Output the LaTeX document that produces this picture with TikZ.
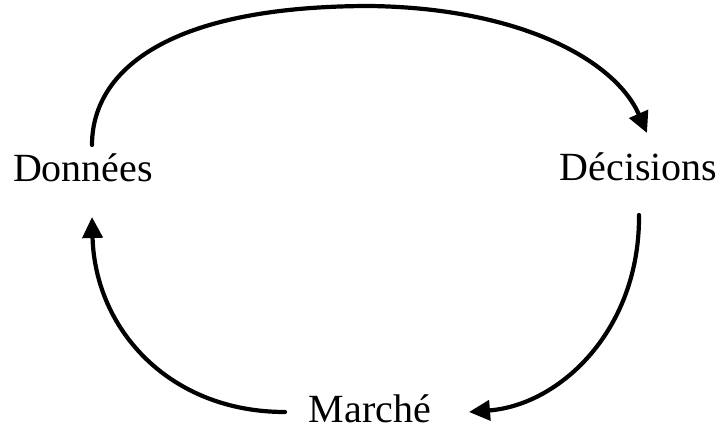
\documentclass[tikz,border=0pt]{standalone}
\usepackage{fontspec}
\setmainfont{Liberation Serif}
\usetikzlibrary{arrows.meta}
\begin{document}
\begin{tikzpicture}[x=1pt,y=-1pt,
  term/.style={inner sep=0pt, anchor=base, font=\fontsize{40}{48}\selectfont},
  flow/.style={line width=4.2pt, line cap=round, -{Triangle[length=21pt,width=20pt]}}]
\useasboundingbox (0,0) rectangle (723,432);

% the three stages of the cycle
\node[term] (don) at (83,181) {Données};
\node[term] (dec) at (638.5,180) {Décisions};
\node[term] (mar) at (370,422) {Marché};

% Données -> Décisions (upper arc)
\draw[flow] ([shift={(9pt,36pt)}]don.base)
  .. controls (92,75) and (160,6) .. (370,6)
  .. controls (520,8) and (615,60) .. ([shift={(8.5pt,47pt)}]dec.base);

% Décisions -> Marché
\draw[flow] ([shift={(0.5pt,-35pt)}]dec.base)
  .. controls (640,330) and (560,405) .. ([shift={(99pt,10pt)}]mar.base);

% Marché -> Données
\draw[flow] ([shift={(-85pt,10pt)}]mar.base)
  .. controls (170,412) and (95,330) .. ([shift={(9pt,-36pt)}]don.base);
\end{tikzpicture}
\end{document}
